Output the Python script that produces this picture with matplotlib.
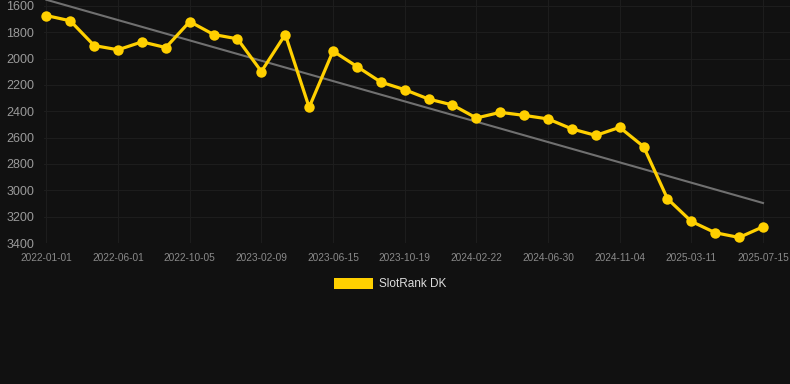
import matplotlib
matplotlib.use('Agg')
import matplotlib.pyplot as plt
from matplotlib.patches import Patch
import numpy as np

# rank values (lower is better, axis inverted)
ranks = [1673, 1713, 1901, 1933, 1873, 1916, 1719, 1817, 1850, 2098,
         1817, 2370, 1943, 2060, 2178, 2236, 2307, 2352, 2451, 2408,
         2431, 2458, 2534, 2583, 2522, 2668, 3064, 3236, 3322, 3358,
         3277]
tick_labels = ['2022-01-01', '2022-06-01', '2022-10-05', '2023-02-09',
               '2023-06-15', '2023-10-19', '2024-02-22', '2024-06-30',
               '2024-11-04', '2025-03-11', '2025-07-15']
y_ticks = [1600, 1800, 2000, 2200, 2400, 2600, 2800, 3000, 3200, 3400]
series_name = 'SlotRank DK'

bg = '#111111'
yellow = '#FFD000'

plt.rcParams['font.family'] = ['Liberation Sans', 'DejaVu Sans']

fig = plt.figure(figsize=(7.9, 3.84), dpi=100, facecolor=bg)
ax = fig.add_axes([44 / 790, 1 - 243 / 384, 1 - 44 / 790, 243 / 384])
ax.set_facecolor(bg)

x = np.arange(len(ranks))

# linear trend
coef = np.polyfit(x, ranks, 1)
ax.plot(x, np.polyval(coef, x), color='#707070', lw=1.5, zorder=2)

ax.plot(x, ranks, color=yellow, lw=2.3, marker='o', ms=7.5,
        markeredgewidth=0, zorder=3, clip_on=False)

ax.set_xlim(-0.1, 31.13)
ax.set_ylim(3400, 1555)
ax.set_yticks(y_ticks)
ax.set_xticks(x[::3])
ax.set_xticklabels(tick_labels)

ax.grid(True, color='#1e1e1e', lw=0.7)
ax.set_axisbelow(True)
for s in ax.spines.values():
    s.set_visible(False)
ax.tick_params(axis='both', length=0)
ax.tick_params(axis='y', labelsize=9, labelcolor='#9a9a9a', pad=7)
ax.tick_params(axis='x', labelsize=7.3, labelcolor='#8a8a8a', pad=7)

fig.legend(handles=[Patch(facecolor=yellow, edgecolor='none', label=series_name)],
           loc='center', bbox_to_anchor=(0.494, 0.26), frameon=False,
           fontsize=8.5, labelcolor='#dddddd', handlelength=3.3,
           handleheight=1.0, handletextpad=0.5)

plt.savefig('out.png', dpi=100, facecolor=bg)
plt.close()
